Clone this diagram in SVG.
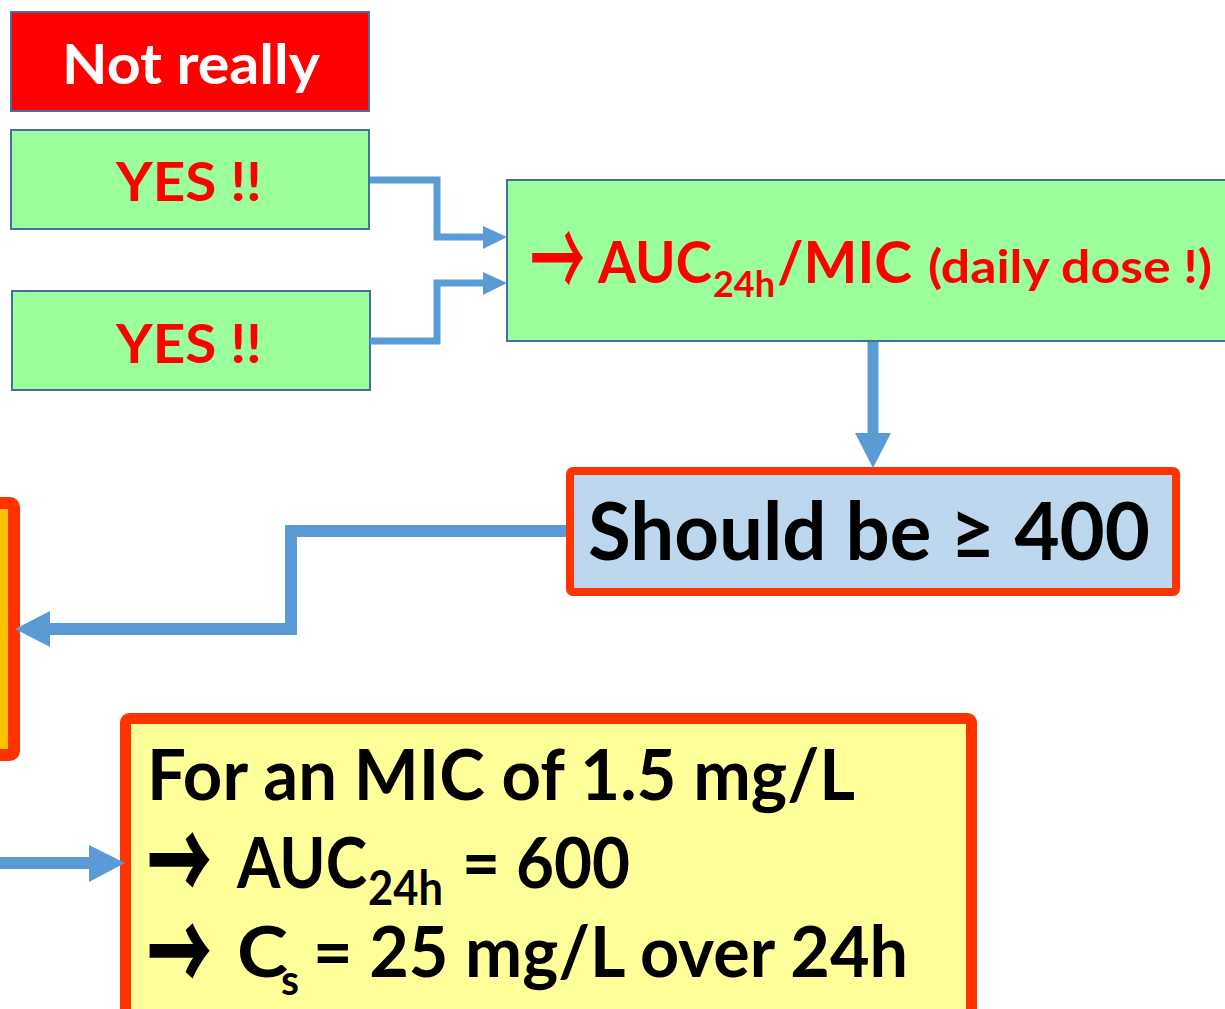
<svg xmlns="http://www.w3.org/2000/svg" width="1225" height="1009" viewBox="0 0 1225 1009">
<defs>
<style>
.t{font-family:Lato,"Open Sans","Liberation Sans",sans-serif;font-weight:700}
.arr{font-family:"Noto Sans CJK SC","DejaVu Sans",sans-serif}
.green{fill:#9BFF9B;stroke:#41719C;stroke-width:2}
.conn{fill:none;stroke:#5B9BD5;stroke-linejoin:miter}
.head{fill:#5B9BD5}
</style>
</defs>
<rect width="1225" height="1009" fill="#FFFFFF"/>

<g id="not-really">
<rect x="11" y="12" width="358" height="99" fill="#FF0000" stroke="#41719C" stroke-width="2"/>
<text class="t" x="62" y="84" font-size="56" fill="#FFFFFF" textLength="258" lengthAdjust="spacingAndGlyphs">Not really</text>
</g>

<g id="yes-1">
<rect class="green" x="11" y="130" width="358" height="99"/>
<text class="t" x="116" y="201" font-size="54" fill="#FF0000" textLength="146" lengthAdjust="spacingAndGlyphs">YES !!</text>
</g>

<g id="yes-2">
<rect class="green" x="12" y="291" width="358" height="99"/>
<text class="t" x="116" y="363" font-size="54" fill="#FF0000" textLength="146" lengthAdjust="spacingAndGlyphs">YES !!</text>
</g>

<g id="auc-mic">
<rect class="green" x="507" y="180" width="730" height="161"/>
<text class="arr" transform="translate(530,259) scale(1,1.2)" x="0" y="35" font-size="95" font-weight="500" fill="#FF0000" textLength="55" lengthAdjust="spacingAndGlyphs">→</text>
<text class="t" fill="#FF0000"><tspan x="598" y="283" font-size="58" textLength="114" lengthAdjust="spacingAndGlyphs">AUC</tspan><tspan x="713" y="297" font-size="36" textLength="62" lengthAdjust="spacingAndGlyphs">24h</tspan><tspan x="777" y="283" font-size="58" textLength="135" lengthAdjust="spacingAndGlyphs">/MIC</tspan><tspan x="928" y="283" font-size="46" textLength="284" lengthAdjust="spacingAndGlyphs">(daily dose !)</tspan></text>
</g>

<g id="should-be">
<rect x="570" y="471" width="606" height="121" rx="3" fill="#BDD7EE" stroke="#FF3300" stroke-width="8"/>
<text class="t" x="588" y="560" font-size="80" fill="#000000" textLength="562" lengthAdjust="spacingAndGlyphs">Should be ≥ 400</text>
</g>

<g id="left-box">
<rect x="-100" y="503" width="114" height="252" rx="4" fill="#FFC000" stroke="#FF3300" stroke-width="12"/>
</g>

<g id="mic-example">
<rect x="125.5" y="718.5" width="846" height="330" rx="4" fill="#FFFF99" stroke="#FF3300" stroke-width="11"/>
<text class="t" x="147" y="800" font-size="70" fill="#000000" textLength="708" lengthAdjust="spacingAndGlyphs">For an MIC of 1.5 mg/L</text>
<text class="arr" transform="translate(147,861) scale(1,1.2)" x="0" y="35" font-size="95" font-weight="900" fill="#000000" textLength="65" lengthAdjust="spacingAndGlyphs">→</text>
<text class="t" fill="#000000"><tspan x="237" y="888" font-size="70" textLength="130" lengthAdjust="spacingAndGlyphs">AUC</tspan><tspan x="368" y="905" font-size="48" textLength="75" lengthAdjust="spacingAndGlyphs">24h</tspan><tspan x="462" y="888" font-size="70" textLength="168" lengthAdjust="spacingAndGlyphs">= 600</tspan></text>
<text class="arr" transform="translate(147,952) scale(1,1.2)" x="0" y="35" font-size="95" font-weight="900" fill="#000000" textLength="65" lengthAdjust="spacingAndGlyphs">→</text>
<text class="t" fill="#000000"><tspan x="237" y="977" font-size="70" textLength="51" lengthAdjust="spacingAndGlyphs">C</tspan><tspan x="281" y="995" font-size="42" textLength="18" lengthAdjust="spacingAndGlyphs">s</tspan><tspan x="313" y="977" font-size="70" textLength="595" lengthAdjust="spacingAndGlyphs">= 25 mg/L over 24h</tspan></text>
</g>

<g id="connectors">
<polyline class="conn" stroke-width="7" points="370,180 437,180 437,237 485,237"/>
<polygon class="head" points="483,226 507,237 483,249"/>
<polyline class="conn" stroke-width="7" points="370,341 437,341 437,283 485,283"/>
<polygon class="head" points="483,272 507,283 483,295"/>
<line class="conn" stroke-width="11" x1="873" y1="342" x2="873" y2="435"/>
<polygon class="head" points="855,433 891,433 873,468"/>
<polyline class="conn" stroke-width="12" points="566,531 291,531 291,629 48,629"/>
<polygon class="head" points="50,611 15,629 50,647"/>
<line class="conn" stroke-width="12" x1="0" y1="863" x2="91" y2="863"/>
<polygon class="head" points="89,845 125,863 89,882"/>
</g>
</svg>
